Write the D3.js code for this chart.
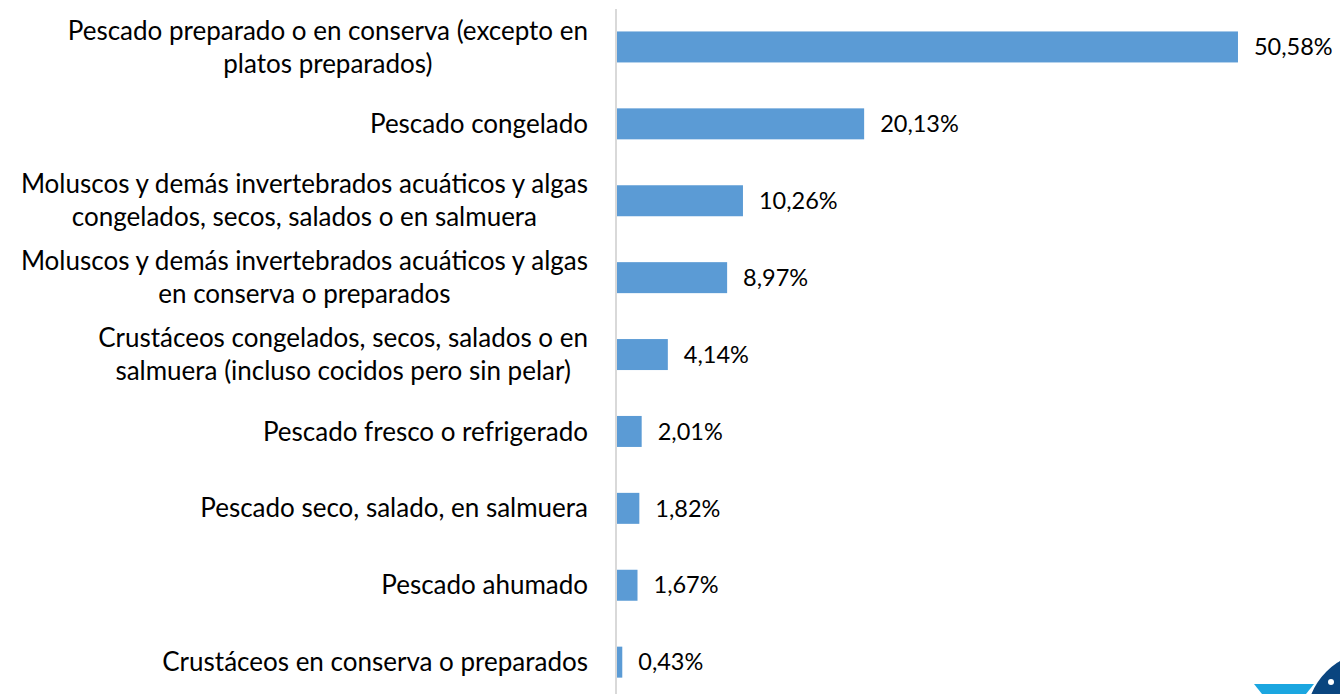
<!DOCTYPE html>
<html><head><meta charset="utf-8">
<script src="https://cdn.jsdelivr.net/npm/d3@7"></script>
<style>html,body{margin:0;padding:0;background:#fff;overflow:hidden}</style>
</head><body>
<svg id="chart" width="1340" height="694"></svg>
<script>
const categories = [
  "Pescado preparado o en conserva (excepto en\nplatos preparados)",
  "Pescado congelado",
  "Moluscos y demás invertebrados acuáticos y algas\ncongelados, secos, salados o en salmuera",
  "Moluscos y demás invertebrados acuáticos y algas\nen conserva o preparados",
  "Crustáceos congelados, secos, salados o en\nsalmuera (incluso cocidos pero sin pelar)",
  "Pescado fresco o refrigerado",
  "Pescado seco, salado, en salmuera",
  "Pescado ahumado",
  "Crustáceos en conserva o preparados"
];
const values = [50.58, 20.13, 10.26, 8.97, 4.14, 2.01, 1.82, 1.67, 0.43];
const valueLabels = ["50,58%", "20,13%", "10,26%", "8,97%", "4,14%", "2,01%", "1,82%", "1,67%", "0,43%"];

const FONT = "Lato, 'Open Sans', sans-serif";
const FS = 26;
const FSV = 23.5;
const svg = d3.select("#chart");
const x0 = 617;
const x = d3.scaleLinear().domain([0, 55]).range([x0, x0 + 55 * 12.277]);
const y = d3.scaleBand().domain(d3.range(categories.length)).range([8.5, 700.6])
  .paddingInner(0.597).paddingOuter(0.2985);

// bars
svg.selectAll("rect.bar").data(values).join("rect")
  .attr("class", "bar")
  .attr("x", x(0))
  .attr("y", (d, i) => y(i))
  .attr("width", d => x(d) - x(0))
  .attr("height", y.bandwidth())
  .attr("fill", "#5b9bd5");

// axis line
svg.append("line").attr("x1", 616).attr("x2", 616).attr("y1", 9).attr("y2", 694)
  .attr("stroke", "#d9d9d9").attr("stroke-width", 2);

// value labels
svg.selectAll("text.val").data(values).join("text")
  .attr("class", "val")
  .attr("x", d => x(d) + 16)
  .attr("y", (d, i) => y(i) + y.bandwidth() / 2)
  .attr("dy", "0.35em")
  .attr("font-family", FONT).attr("font-size", FSV).attr("fill", "#000")
  .text((d, i) => valueLabels[i]);

// category labels
const rightEdge = 588;
const lineH = 33;
categories.forEach((c, i) => {
  const lines = c.split("\n");
  const cy = y(i) + y.bandwidth() / 2;
  const g = svg.append("text")
    .attr("font-family", FONT).attr("font-size", FS).attr("fill", "#000")
    .attr("text-anchor", "middle");
  const ts = lines.map((l, k) => g.append("tspan")
    .attr("y", cy + (k - (lines.length - 1) / 2) * lineH)
    .attr("dy", "0.35em").text(l));
  const w = d3.max(ts, t => t.node().getComputedTextLength());
  ts.forEach(t => t.attr("x", rightEdge - w / 2));
});

// logo fragment
svg.append("polygon").attr("points", "1254,684 1314,684 1306,694 1262,694").attr("fill", "#1ba6e0");
svg.append("circle").attr("cx", 1376).attr("cy", 721).attr("r", 70).attr("fill", "#0a457f");
svg.append("circle").attr("cx", 1331).attr("cy", 682).attr("r", 3).attr("fill", "#fff");
</script>
</body></html>
